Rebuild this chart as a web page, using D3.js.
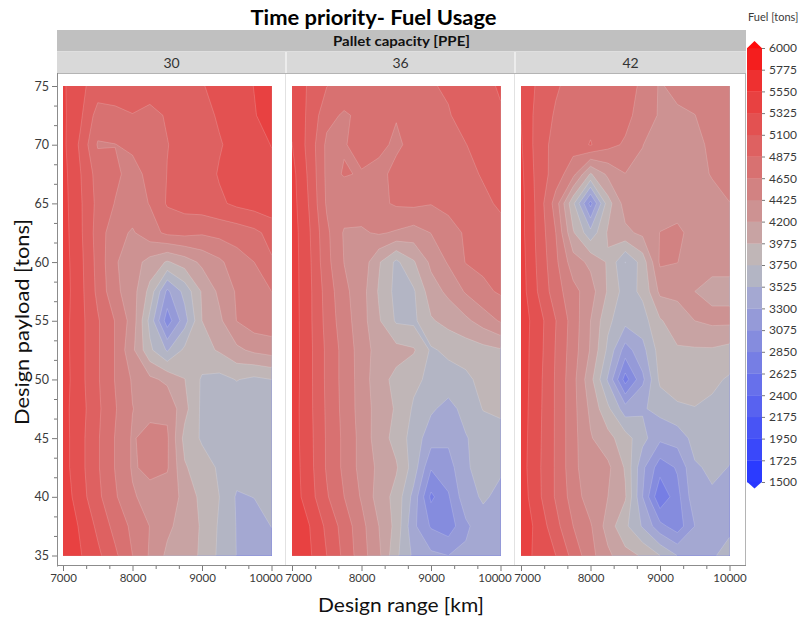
<!DOCTYPE html>
<html>
<head>
<meta charset="utf-8">
<script src="https://cdn.jsdelivr.net/npm/d3@7"></script>
<style>
  body { margin: 0; background: #fff; }
  text { font-family: Lato, "Open Sans", "Noto Sans", sans-serif; }
</style>
</head>
<body>
<svg id="chart" width="803" height="621"></svg>
<script>
// ---- data ---------------------------------------------------------------
const ranges = [7000, 7250, 7500, 7750, 8000, 8250, 8500, 8750, 9000, 9250, 9500, 9750, 10000];
const payloads = [75, 72.5, 70, 67.5, 65, 62.5, 60, 57.5, 55, 52.5, 50, 47.5, 45, 42.5, 40, 37.5, 35];
const capacities = ["30", "36", "42"];

// fuel [tons], one row per payload (75 -> 35), one column per range (7000 -> 10000)
const fuel30 = [
  [5360,5150,5000,4990,4950,4950,4980,5030,5090,5150,5230,5330,5400],
  [5370,5140,4780,4820,4870,4830,4890,4950,5020,5130,5220,5310,5420],
  [5380,5060,4630,4645,4700,4750,4870,4930,4980,5080,5180,5260,5330],
  [5400,5110,4780,4700,4560,4720,4880,4940,4990,5120,5180,5230,5280],
  [5410,5130,4810,4640,4550,4660,4900,4960,5000,5060,5150,5200,5250],
  [5420,5140,4780,4500,4400,4560,4700,4720,4680,4720,4750,4820,4950],
  [5430,5160,4800,4450,4300,4120,3950,4080,4250,4380,4550,4650,4850],
  [5440,5170,4820,4480,4300,3900,3250,3600,4000,4250,4450,4600,4650],
  [5420,5170,4900,4640,4330,3680,2950,3430,3975,4150,4430,4550,4570],
  [5420,5170,4900,4640,4250,3800,3500,3800,3900,4000,4150,4250,4300],
  [5430,5170,4900,4640,4400,4250,4150,3980,3720,3680,3760,3700,3750],
  [5400,5190,4920,4670,4430,4340,4380,4050,3700,3620,3600,3620,3650],
  [5420,5170,4900,4640,4400,4520,4460,3900,3720,3630,3600,3600,3620],
  [5420,5170,4900,4640,4400,4480,4450,4000,3850,3720,3620,3580,3600],
  [5460,5200,4930,4680,4450,4350,4300,4150,3900,3750,3500,3530,3560],
  [5480,5300,5050,4800,4600,4420,4250,4100,3950,3720,3515,3430,3530],
  [5500,5340,5150,4920,4650,4400,4150,4050,3950,3700,3520,3430,3420]
];
const fuel36 = [
  [5250,5070,4880,4800,4780,4780,4790,4820,4860,4900,4980,5050,5120],
  [5280,5050,4720,4620,4700,4720,4660,4760,4820,4860,4950,5020,5080],
  [5330,5020,4600,4640,4700,4690,4620,4700,4760,4800,4870,4950,5020],
  [5400,5050,4600,4660,4640,4600,4700,4740,4760,4790,4830,4890,4960],
  [5420,5080,4620,4560,4520,4600,4680,4700,4660,4720,4780,4840,4900],
  [5440,5120,4700,4400,4400,4450,4400,4330,4430,4550,4680,4750,4820],
  [5440,5140,4720,4420,4350,4000,3700,3950,4250,4450,4660,4700,4720],
  [5440,5150,4780,4480,4300,3950,3680,3720,4100,4250,4450,4600,4680],
  [5450,5150,4800,4520,4300,4000,3720,3700,3950,4050,4150,4300,4450],
  [5450,5160,4830,4570,4320,4100,4050,4000,3720,3800,3850,3900,3950],
  [5450,5160,4830,4570,4330,4050,3920,3800,3700,3650,3700,3820,3880],
  [5440,5160,4840,4580,4330,4100,3950,3720,3560,3450,3600,3760,3800],
  [5440,5170,4850,4600,4350,4080,3900,3650,3400,3350,3510,3620,3650],
  [5450,5180,4850,4600,4350,4150,4000,3650,3100,3200,3500,3600,3550],
  [5460,5200,4900,4650,4400,4100,3900,3450,2800,3050,3450,3550,3480],
  [5480,5330,5050,4780,4500,4200,3900,3350,3050,2950,3250,3450,3500],
  [5500,5360,5100,4820,4520,4250,3800,3480,3350,3300,3350,3450,3480]
];
const fuel42 = [
  [5300,5050,4900,4800,4780,4770,4760,4600,4400,4500,4560,4580,4600],
  [5320,5000,4850,4800,4800,4780,4720,4550,4400,4380,4420,4550,4580],
  [5350,4980,4800,4750,4890,4720,4620,4430,4320,4300,4350,4480,4560],
  [5380,5000,4780,4500,3950,4250,4420,4380,4300,4280,4300,4450,4520],
  [5400,5020,4550,3800,3000,3875,4300,4250,4300,4270,4260,4300,4420],
  [5400,5030,4650,4000,3600,4000,4150,4250,4430,4500,4300,4280,4300],
  [5420,5050,4700,4300,4150,3950,3520,3850,4460,4430,4300,4250,4250],
  [5430,5080,4750,4500,4300,3950,3650,3800,4250,4250,4200,4150,4150],
  [5450,5200,4880,4550,4200,3800,3600,3650,3950,4100,4200,4250,4250],
  [5440,5190,4860,4530,4180,3700,3200,3450,3850,3950,3950,3950,3900],
  [5450,5170,4850,4500,4050,3500,2750,3250,3800,3900,3870,3800,3720],
  [5440,5160,4850,4500,4150,3800,3400,3500,3600,3700,3740,3700,3650],
  [5430,5150,4850,4500,4220,4050,3850,3600,3350,3400,3600,3620,3580],
  [5420,5140,4850,4500,4250,4250,3950,3350,2950,3100,3500,3560,3520],
  [5450,5150,4850,4550,4300,4200,4000,3300,2650,3000,3450,3500,3480],
  [5480,5250,4950,4650,4450,4100,3800,3500,3150,2950,3300,3450,3480],
  [5450,5250,5100,4800,4500,4250,4050,3950,3750,3520,3400,3500,3600]
];
const fuelGrids = [fuel30, fuel36, fuel42];

// contour levels = legend tick labels
const fuelLevels = [1500, 1725, 1950, 2175, 2400, 2625, 2850, 3075, 3300, 3525, 3750,
                    3975, 4200, 4425, 4650, 4875, 5100, 5325, 5550, 5775, 6000];
const rangeTicks = [7000, 8000, 9000, 10000];
const payloadTicks = [35, 40, 45, 50, 55, 60, 65, 70, 75];

// ---- palette (blue -> gray -> red), one colour per band ------------------
const bandColors = [
  "rgb(43,59,255)", "rgb(58,72,250)", "rgb(72,84,245)", "rgb(88,98,240)", "rgb(103,112,235)",
  "rgb(118,126,228)", "rgb(133,140,222)", "rgb(149,154,216)", "rgb(164,168,210)", "rgb(179,181,196)",
  "rgb(192,182,183)", "rgb(200,163,163)", "rgb(205,146,146)", "rgb(210,130,130)", "rgb(216,113,113)",
  "rgb(222,97,97)", "rgb(227,81,81)", "rgb(232,65,65)", "rgb(238,48,48)", "rgb(244,30,30)"
];
const overColor = "rgb(255,10,10)";
const underColor = "rgb(40,55,255)";
const levelColor = v => {
  const i = fuelLevels.indexOf(v);
  return i >= bandColors.length ? overColor : bandColors[i];
};

// ---- layout ---------------------------------------------------------------
const svg = d3.select("#chart");
const frame = { left: 57, right: 746, top: 73, bottom: 566 };
const panelEdges = [57, 286, 515, 746];
const y = d3.scaleLinear().domain([35, 75]).range([555.5, 86]);
const xScales = capacities.map((c, i) =>
  d3.scaleLinear().domain([7000, 10000]).range([63 + 229 * i, 271.5 + 229 * i]));

const textColor = "#3a3a3a";

// title
svg.append("text")
  .attr("x", 373.5).attr("y", 25)
  .attr("text-anchor", "middle")
  .attr("font-size", 20).attr("font-weight", 700)
  .attr("textLength", 246).attr("lengthAdjust", "spacingAndGlyphs")
  .attr("fill", "#000")
  .text("Time priority- Fuel Usage");

// group header
svg.append("rect")
  .attr("x", frame.left).attr("y", 30)
  .attr("width", frame.right - frame.left).attr("height", 21.5)
  .attr("fill", "#c0c0c0");
svg.append("text")
  .attr("x", (frame.left + frame.right) / 2).attr("y", 46)
  .attr("text-anchor", "middle")
  .attr("font-size", 14).attr("font-weight", 700)
  .attr("textLength", 137).attr("lengthAdjust", "spacingAndGlyphs")
  .attr("fill", "#111")
  .text("Pallet capacity [PPE]");

// facet strips
capacities.forEach((c, i) => {
  const x0 = panelEdges[i], x1 = panelEdges[i + 1];
  svg.append("rect")
    .attr("x", x0 + (i ? 0.5 : 0)).attr("y", 52)
    .attr("width", x1 - x0 - (i ? 0.5 : 0) - (i < 2 ? 0.5 : 0)).attr("height", 21)
    .attr("fill", "#d9d9d9");
  svg.append("text")
    .attr("x", (x0 + x1) / 2).attr("y", 67.5)
    .attr("text-anchor", "middle")
    .attr("font-size", 14)
    .attr("fill", "#333")
    .text(c);
});

// ---- filled contours --------------------------------------------------------
const nCols = ranges.length, nRows = payloads.length;
const colToRange = d3.scaleLinear().domain([0, nCols - 1]).range([ranges[0], ranges[nCols - 1]]);
const rowToPayload = d3.scaleLinear().domain([0, nRows - 1]).range([payloads[0], payloads[nRows - 1]]);
const contourGen = d3.contours().size([nCols, nRows]).thresholds(fuelLevels);

const defs = svg.append("defs");
fuelGrids.forEach((grid, i) => {
  const x = xScales[i];
  const clipId = "clip-panel-" + i;
  defs.append("clipPath").attr("id", clipId)
    .append("rect")
    .attr("x", x(7000)).attr("y", y(75))
    .attr("width", x(10000) - x(7000)).attr("height", y(35) - y(75));

  const projection = d3.geoTransform({
    point(px, py) {
      this.stream.point(x(colToRange(px - 0.5)), y(rowToPayload(py - 0.5)));
    }
  });
  const path = d3.geoPath(projection);

  const g = svg.append("g").attr("clip-path", `url(#${clipId})`);
  g.append("rect")
    .attr("x", x(7000)).attr("y", y(75))
    .attr("width", x(10000) - x(7000)).attr("height", y(35) - y(75))
    .attr("fill", underColor);
  g.selectAll("path.band")
    .data(contourGen(grid.flat()))
    .join("path")
    .attr("class", "band")
    .attr("d", path)
    .attr("fill", d => levelColor(d.value))
    .attr("stroke", "rgba(255,255,255,0.28)")
    .attr("stroke-width", 0.6)
    .attr("stroke-linejoin", "round");
});

// ---- frame and panel separators ---------------------------------------------
[286, 515].forEach(px => {
  svg.append("line")
    .attr("x1", px - 0.5).attr("x2", px - 0.5)
    .attr("y1", frame.top).attr("y2", frame.bottom)
    .attr("stroke", "#e2e2e2");
});
svg.append("rect")
  .attr("x", frame.left + 0.5).attr("y", frame.top + 0.5)
  .attr("width", frame.right - frame.left - 1).attr("height", frame.bottom - frame.top - 1)
  .attr("fill", "none").attr("stroke", "#b4b4b4");
svg.append("line")
  .attr("x1", frame.left + 0.5).attr("x2", frame.left + 0.5)
  .attr("y1", frame.top).attr("y2", frame.bottom + 0.5)
  .attr("stroke", "#8c8c8c");
svg.append("line")
  .attr("x1", frame.left).attr("x2", frame.right)
  .attr("y1", frame.bottom - 0.5).attr("y2", frame.bottom - 0.5)
  .attr("stroke", "#8c8c8c");

// ---- axes -------------------------------------------------------------------
function styleAxis(sel, size) {
  sel.select(".domain").remove();
  sel.selectAll(".tick line").attr("stroke", "#7a7a7a");
  sel.selectAll(".tick text").attr("fill", textColor).attr("font-size", size || 12.5)
    .attr("font-family", "Lato, 'Open Sans', sans-serif");
}

// y axis: labelled major ticks plus two minor ticks per interval
const yMinor = d3.range(35, 75.001, 5 / 3).filter(v => Math.abs(v / 5 - Math.round(v / 5)) > 1e-6);
svg.append("g")
  .attr("transform", `translate(${frame.left},0)`)
  .call(d3.axisLeft(y).tickValues(yMinor).tickSize(3).tickFormat(""))
  .call(styleAxis);
svg.append("g")
  .attr("transform", `translate(${frame.left},0)`)
  .call(d3.axisLeft(y).tickValues(payloadTicks).tickSize(5).tickPadding(3).tickFormat(d3.format("d")))
  .call(styleAxis);

// x axes, one per facet; end labels of neighbouring facets nudged apart
const xMinor = d3.range(7000, 10000.001, 1000 / 3).filter(v => Math.abs(v / 1000 - Math.round(v / 1000)) > 1e-6);
xScales.forEach((x, i) => {
  svg.append("g")
    .attr("transform", `translate(0,${frame.bottom})`)
    .call(d3.axisBottom(x).tickValues(xMinor).tickSize(3).tickFormat(""))
    .call(styleAxis);
  svg.append("g")
    .attr("transform", `translate(0,${frame.bottom})`)
    .call(d3.axisBottom(x).tickValues(rangeTicks).tickSize(5).tickPadding(3).tickFormat(d3.format("d")))
    .call(g => styleAxis(g, 11.5))
    .call(g => g.selectAll(".tick text")
      .attr("dx", d => (d === 10000 && i < 2) ? -6 : (d === 7000 && i > 0) ? 6 : 0));
});

// axis titles
svg.append("text")
  .attr("x", 401).attr("y", 612)
  .attr("text-anchor", "middle")
  .attr("font-size", 20)
  .attr("textLength", 166).attr("lengthAdjust", "spacingAndGlyphs")
  .attr("fill", "#111")
  .text("Design range [km]");
svg.append("text")
  .attr("transform", "translate(29,322) rotate(-90)")
  .attr("text-anchor", "middle")
  .attr("font-size", 20)
  .attr("textLength", 206).attr("lengthAdjust", "spacingAndGlyphs")
  .attr("fill", "#111")
  .text("Design payload [tons]");

// ---- colour legend ------------------------------------------------------------
const legendY = d3.scaleLinear().domain([1500, 6000]).range([482, 48]);
const barX = 747, barW = 15;
const legend = svg.append("g");
legend.append("text")
  .attr("x", 748).attr("y", 21)
  .attr("font-size", 11)
  .attr("fill", textColor)
  .text("Fuel [tons]");
legend.selectAll("rect.band")
  .data(bandColors)
  .join("rect")
  .attr("class", "band")
  .attr("x", barX)
  .attr("y", (c, i) => legendY(fuelLevels[i + 1]))
  .attr("width", barW)
  .attr("height", (c, i) => legendY(fuelLevels[i]) - legendY(fuelLevels[i + 1]) + 0.3)
  .attr("fill", c => c);
legend.append("path")
  .attr("d", `M${barX},${legendY(6000) + 0.3}L${barX + barW / 2},${legendY(6000) - 7}L${barX + barW},${legendY(6000) + 0.3}Z`)
  .attr("fill", overColor);
legend.append("path")
  .attr("d", `M${barX},${legendY(1500) - 0.3}L${barX + barW / 2},${legendY(1500) + 6.5}L${barX + barW},${legendY(1500) - 0.3}Z`)
  .attr("fill", underColor);
legend.append("g")
  .attr("transform", `translate(${barX + barW},0)`)
  .call(d3.axisRight(legendY).tickValues(fuelLevels).tickSize(3).tickPadding(4).tickFormat(d3.format("d")))
  .call(g => styleAxis(g, 12));
</script>
</body>
</html>
